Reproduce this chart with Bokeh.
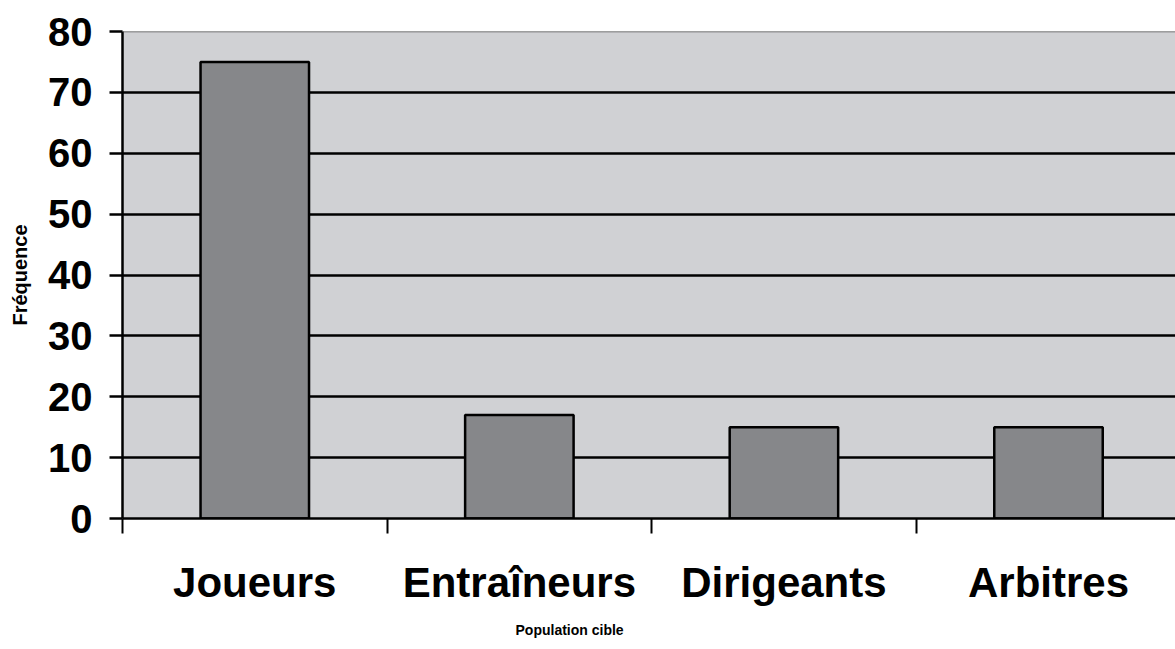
from bokeh.plotting import figure
from bokeh.models import Range1d, FixedTicker, Span, ColumnDataSource, Title
from bokeh.embed import file_html
from bokeh.resources import INLINE

categories = ["Joueurs", "Entraîneurs", "Dirigeants", "Arbitres"]
frequencies = [75, 17, 15, 15]
y_ticks = [0, 10, 20, 30, 40, 50, 60, 70, 80]

xs = [i + 0.5 for i in range(len(categories))]
boundaries = [float(i) for i in range(len(categories) + 1)]

src = ColumnDataSource(dict(x=xs, top=frequencies, cat=categories))

FONT = "Liberation Sans"

p = figure(width=1175, height=649, output_backend="svg", toolbar_location=None,
           x_range=Range1d(0, 3.98), y_range=Range1d(0, 80),
           min_border_left=122, min_border_top=31, min_border_bottom=131, min_border_right=0)

p.background_fill_color = "#d0d1d4"
p.border_fill_color = "white"
p.outline_line_color = None

p.vbar(x="x", top="top", width=0.41, bottom=0, source=src,
       fill_color="#86878a", line_color="black", line_width=2.5)

# y axis
p.yaxis.ticker = FixedTicker(ticks=y_ticks)
p.yaxis.axis_line_color = "black"
p.yaxis.axis_line_width = 2.5
p.yaxis.major_tick_line_color = "black"
p.yaxis.major_tick_line_width = 2.5
p.yaxis.major_tick_out = 13
p.yaxis.major_tick_in = 0
p.yaxis.minor_tick_line_color = None
p.yaxis.major_label_text_font = FONT
p.yaxis.major_label_text_font_style = "bold"
p.yaxis.major_label_text_font_size = "40px"
p.yaxis.major_label_text_color = "black"
p.yaxis.major_label_standoff = 17
p.yaxis.axis_label = "Fréquence"
p.yaxis.axis_label_text_font = FONT
p.yaxis.axis_label_text_font_style = "bold"
p.yaxis.axis_label_text_font_size = "20px"
p.yaxis.axis_label_text_color = "black"
p.yaxis.axis_label_standoff = 14

# x axis
p.xaxis.ticker = FixedTicker(ticks=xs, minor_ticks=boundaries)
p.xaxis.major_label_overrides = {x: c for x, c in zip(xs, categories)}
p.xaxis.axis_line_color = "black"
p.xaxis.axis_line_width = 2.5
p.xaxis.major_tick_line_color = None
p.xaxis.major_tick_out = 0
p.xaxis.major_tick_in = 0
p.xaxis.minor_tick_line_color = "black"
p.xaxis.minor_tick_line_width = 2
p.xaxis.minor_tick_out = 15
p.xaxis.minor_tick_in = 0
p.xaxis.major_label_text_font = FONT
p.xaxis.major_label_text_font_style = "bold"
p.xaxis.major_label_text_font_size = "42px"
p.xaxis.major_label_text_color = "black"
p.xaxis.major_label_standoff = 25

# x-axis title, placed off-centre as in the original
p.add_layout(Title(text="Population cible", align="left", offset=393,
                   text_font=FONT, text_font_style="bold", text_font_size="14px",
                   text_color="black", standoff=22), "below")

# grid
p.xgrid.grid_line_color = None
p.ygrid.ticker = FixedTicker(ticks=y_ticks[1:-1])
p.ygrid.grid_line_color = "black"
p.ygrid.grid_line_width = 2.5
p.ygrid.level = "underlay"

p.add_layout(Span(location=y_ticks[-1], dimension="width", line_color="#555555", line_width=1.5))

open("out.html", "w").write(file_html(p, INLINE))
